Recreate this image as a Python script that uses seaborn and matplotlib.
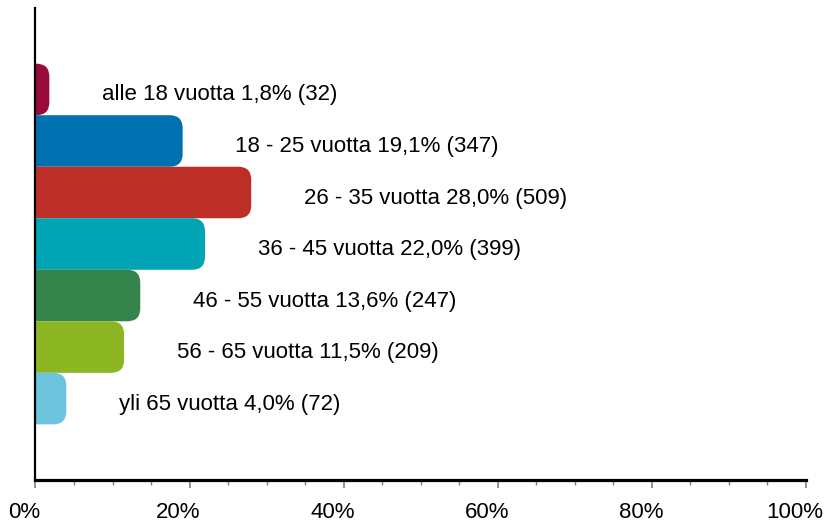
import numpy as np
import pandas as pd
import seaborn as sns
import matplotlib.pyplot as plt
import matplotlib.transforms as mtrans
from matplotlib.patches import FancyBboxPatch
from matplotlib.ticker import MultipleLocator, FuncFormatter

# age groups, share of answers (%) and counts
groups = ['alle 18 vuotta', '18 - 25 vuotta', '26 - 35 vuotta', '36 - 45 vuotta',
          '46 - 55 vuotta', '56 - 65 vuotta', 'yli 65 vuotta']
percent = [1.8, 19.1, 28.0, 22.0, 13.6, 11.5, 4.0]
counts = [32, 347, 509, 399, 247, 209, 72]
colors = ['#9b0a3c', '#0071b0', '#bd2f26', '#00a4b4', '#34844b', '#8db722', '#6cc4df']

df = pd.DataFrame({'group': groups, 'percent': percent})

sns.set_style('white')
plt.rcParams['font.family'] = ['Liberation Sans', 'DejaVu Sans']

fig = plt.figure(figsize=(8.25, 5.25), dpi=100)
ax = fig.add_axes([0.043, 0.0857, 0.934, 0.899])

sns.barplot(data=df, x='percent', y='group', hue='group', palette=colors,
            width=1.0, orient='h', legend=False, ax=ax, saturation=1)

# swap plain bars for bars with rounded right ends
r = 1.7
aspect = 0.252 / r
for p in list(ax.patches):
    x0, y0 = p.get_x(), p.get_y()
    w, h = p.get_width(), p.get_height()
    col = p.get_facecolor()
    p.remove()
    rb = FancyBboxPatch((x0 - 5, y0), w + 5, h,
                        boxstyle=f"round,pad=0,rounding_size={min(r, w)}",
                        mutation_aspect=aspect, facecolor=col, edgecolor='none')
    ax.add_patch(rb)

for i, (g, v, n) in enumerate(zip(groups, percent, counts)):
    txt = f"{g} {v:.1f}% ({n})".replace('.', ',')
    ax.annotate(txt, xy=(v, i), xytext=(38, -4), textcoords='offset points',
                ha='left', va='center', fontsize=16, color='black')

ax.set_xlim(0, 100)
ax.set_ylim(7.58, -1.58)
ax.xaxis.set_major_locator(MultipleLocator(20))
ax.xaxis.set_minor_locator(MultipleLocator(5))
ax.xaxis.set_major_formatter(FuncFormatter(lambda v, _: f"{v:.0f}%"))
ax.tick_params(axis='x', which='major', bottom=True, length=6, width=1.2,
               color='#808080', labelsize=16, labelcolor='black', pad=10)
ax.tick_params(axis='x', which='minor', bottom=True, length=3.5, width=1.0,
               color='#808080')
ax.set_yticks([])
ax.set_xlabel('')
ax.set_ylabel('')

# tick labels sit a little left of their ticks in the original
shift = mtrans.ScaledTranslation(-0.11, 0, fig.dpi_scale_trans)
for lab in ax.get_xticklabels():
    lab.set_transform(lab.get_transform() + shift)

sns.despine(ax=ax, top=True, right=True)
ax.spines['bottom'].set_linewidth(2.3)
ax.spines['bottom'].set_color('black')
ax.spines['left'].set_linewidth(1.6)
ax.spines['left'].set_color('black')

fig.savefig('out.png', dpi=100)
